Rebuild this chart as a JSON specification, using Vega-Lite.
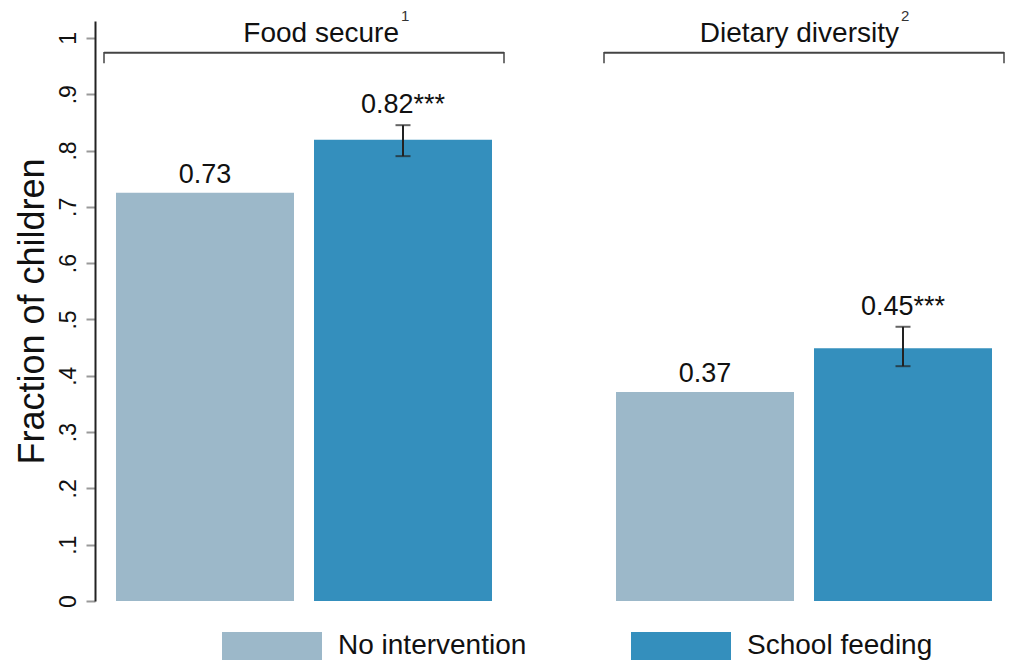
{
  "$schema": "https://vega.github.io/schema/vega-lite/v6.json",
  "width": 918,
  "height": 580,
  "autosize": "none",
  "padding": {"left": 95, "top": 21, "right": 0, "bottom": 62},
  "background": "white",
  "config": {
    "view": {"stroke": null},
    "font": "Liberation Sans",
    "text": {"font": "Liberation Sans", "color": "#111"}
  },
  "datasets": {
    "bars": [
      {"group": "Food secure", "treat": "No intervention", "value": 0.725, "label": "0.73"},
      {"group": "Food secure", "treat": "School feeding", "value": 0.819, "lo": 0.79, "hi": 0.845, "label": "0.82***"},
      {"group": "Dietary diversity", "treat": "No intervention", "value": 0.371, "label": "0.37"},
      {"group": "Dietary diversity", "treat": "School feeding", "value": 0.449, "lo": 0.417, "hi": 0.487, "label": "0.45***"}
    ],
    "groups": [
      {"group": "Food secure", "title": "Food secure", "sup": "1"},
      {"group": "Dietary diversity", "title": "Dietary diversity", "sup": "2"}
    ]
  },
  "layer": [
    {
      "data": {"name": "bars"},
      "mark": {"type": "bar"},
      "encoding": {
        "x": {"field": "group", "type": "nominal", "axis": null,
              "scale": {"domain": ["Food secure", "Dietary diversity"], "paddingInner": 0.2, "paddingOuter": 0.018}},
        "xOffset": {"field": "treat", "type": "nominal",
              "scale": {"domain": ["No intervention", "School feeding"], "paddingInner": 0.101, "paddingOuter": 0.0606}},
        "y": {"field": "value", "type": "quantitative",
              "scale": {"domain": [0, 1.03], "nice": false},
              "axis": {
                "values": [0, 0.1, 0.2, 0.3, 0.4, 0.5, 0.6, 0.7, 0.8, 0.9, 1],
                "labelExpr": "datum.value == 0 ? '0' : datum.value == 1 ? '1' : replace(format(datum.value, '.1f'), '0.', '.')",
                "labelAngle": -90,
                "labelAlign": "center",
                "labelBaseline": "bottom",
                "labelFontSize": 23,
                "labelColor": "#111",
                "labelPadding": 6,
                "tickSize": 9,
                "tickColor": "#999",
                "tickWidth": 2,
                "domainColor": "#222",
                "domainWidth": 2,
                "grid": false,
                "title": "Fraction of children",
                "titleFontSize": 36,
                "titleFontWeight": "normal",
                "titleColor": "#111",
                "titlePadding": 6
              }},
        "color": {"field": "treat", "type": "nominal",
              "scale": {"domain": ["No intervention", "School feeding"], "range": ["#9cb8c9", "#348fbd"]},
              "legend": {
                "title": null,
                "orient": "none",
                "legendX": 127,
                "legendY": 575,
                "direction": "horizontal",
                "symbolType": "M-1,-0.28H1V0.28H-1Z",
                "symbolSize": 10000,
                "symbolStrokeWidth": 0,
                "symbolOpacity": 1,
                "labelFontSize": 28,
                "labelLimit": 400,
                "labelColor": "#111",
                "labelOffset": 16,
                "columnPadding": 104,
                "padding": 0
              }}
      }
    },
    {
      "data": {"name": "bars"},
      "transform": [{"filter": "isValid(datum.hi)"}],
      "mark": {"type": "rule", "color": "#222", "strokeWidth": 2},
      "encoding": {
        "x": {"field": "group", "type": "nominal"},
        "xOffset": {"field": "treat", "type": "nominal"},
        "y": {"field": "lo", "type": "quantitative"},
        "y2": {"field": "hi"}
      }
    },
    {
      "data": {"name": "bars"},
      "transform": [{"filter": "isValid(datum.hi)"}],
      "mark": {"type": "tick", "color": "#222", "size": 15, "thickness": 2},
      "encoding": {
        "x": {"field": "group", "type": "nominal"},
        "xOffset": {"field": "treat", "type": "nominal"},
        "y": {"field": "lo", "type": "quantitative"}
      }
    },
    {
      "data": {"name": "bars"},
      "transform": [{"filter": "isValid(datum.hi)"}],
      "mark": {"type": "tick", "color": "#222", "size": 15, "thickness": 2},
      "encoding": {
        "x": {"field": "group", "type": "nominal"},
        "xOffset": {"field": "treat", "type": "nominal"},
        "y": {"field": "hi", "type": "quantitative"}
      }
    },
    {
      "data": {"name": "bars"},
      "transform": [{"filter": "!isValid(datum.hi)"}],
      "mark": {"type": "text", "fontSize": 27, "baseline": "alphabetic", "align": "center", "dy": -10},
      "encoding": {
        "x": {"field": "group", "type": "nominal"},
        "xOffset": {"field": "treat", "type": "nominal"},
        "y": {"field": "value", "type": "quantitative"},
        "text": {"field": "label"}
      }
    },
    {
      "data": {"name": "bars"},
      "transform": [{"filter": "isValid(datum.hi)"}],
      "mark": {"type": "text", "fontSize": 27, "baseline": "alphabetic", "align": "center", "dy": -12},
      "encoding": {
        "x": {"field": "group", "type": "nominal"},
        "xOffset": {"field": "treat", "type": "nominal"},
        "y": {"field": "hi", "type": "quantitative"},
        "text": {"field": "label"}
      }
    },
    {
      "data": {"name": "groups"},
      "mark": {"type": "bar", "color": "#444"},
      "encoding": {
        "x": {"field": "group", "type": "nominal"},
        "y": {"datum": 0.9755},
        "y2": {"datum": 0.972}
      }
    },
    {
      "data": {"name": "groups"},
      "mark": {"type": "rule", "color": "#444", "strokeWidth": 1.5},
      "encoding": {
        "x": {"field": "group", "type": "nominal", "bandPosition": 0},
        "y": {"datum": 0.975},
        "y2": {"datum": 0.955}
      }
    },
    {
      "data": {"name": "groups"},
      "mark": {"type": "rule", "color": "#444", "strokeWidth": 1.5},
      "encoding": {
        "x": {"field": "group", "type": "nominal", "bandPosition": 1},
        "y": {"datum": 0.975},
        "y2": {"datum": 0.955}
      }
    },
    {
      "data": {"name": "groups"},
      "mark": {"type": "text", "fontSize": 28, "baseline": "alphabetic", "align": "right", "dx": 95},
      "encoding": {
        "x": {"field": "group", "type": "nominal"},
        "y": {"datum": 0.993},
        "text": {"field": "title"}
      }
    },
    {
      "data": {"name": "groups"},
      "mark": {"type": "text", "fontSize": 15, "baseline": "alphabetic", "align": "left", "dx": 97, "color": "#333"},
      "encoding": {
        "x": {"field": "group", "type": "nominal"},
        "y": {"datum": 1.03},
        "text": {"field": "sup"}
      }
    }
  ]
}
